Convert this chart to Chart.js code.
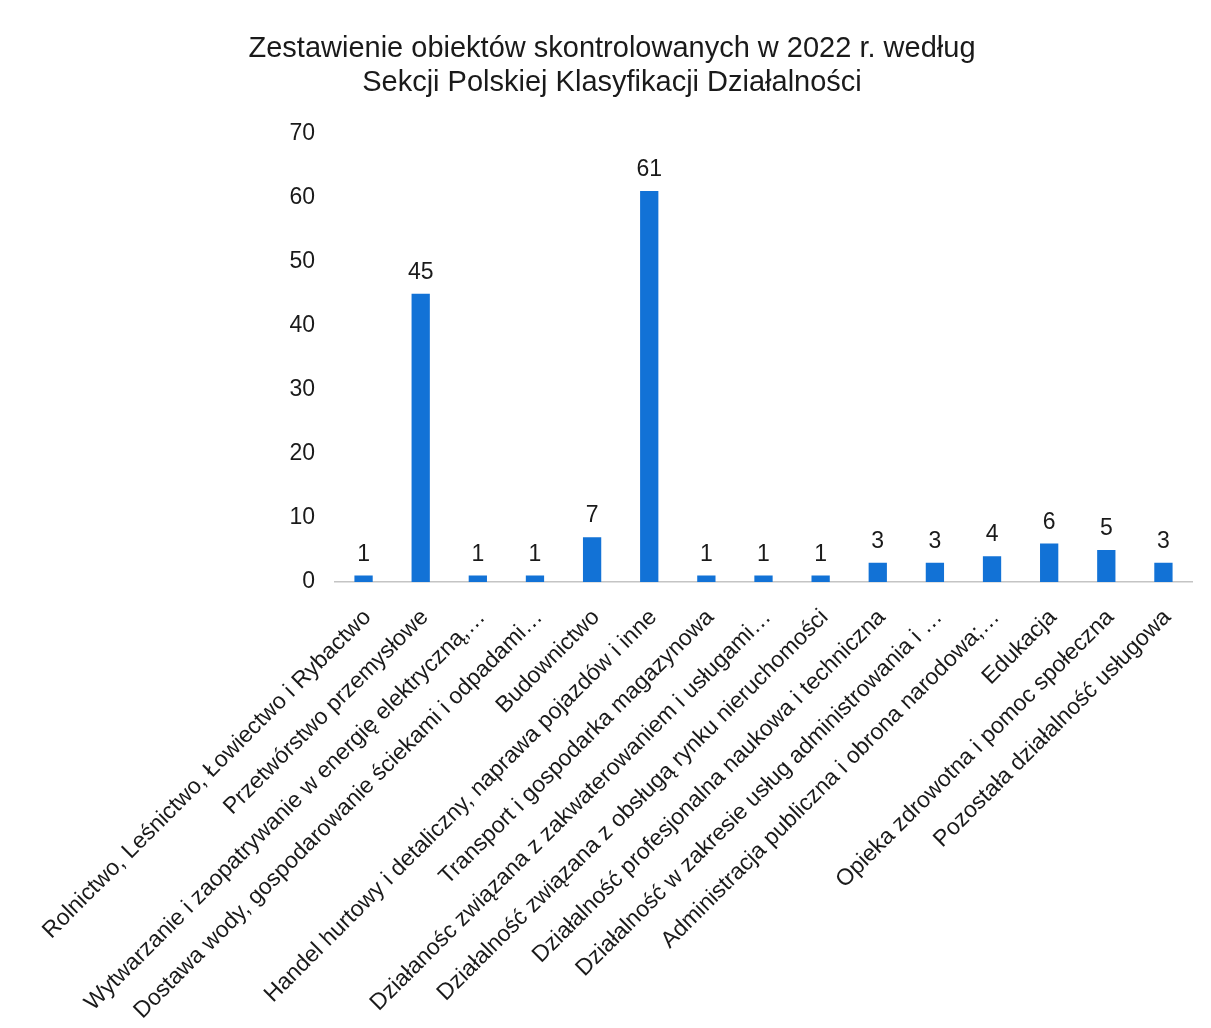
<!DOCTYPE html>
<html>
<head>
<meta charset="utf-8">
<script src="https://cdn.jsdelivr.net/npm/chart.js@4/dist/chart.umd.min.js"></script>
<style>
  html, body { margin: 0; padding: 0; background: #fff; }
  #wrap { width: 1211px; height: 1028px; position: relative; }
</style>
</head>
<body>
<div id="wrap"><canvas id="myChart"></canvas></div>
<script>
const titleLines = [
    'Zestawienie obiektów skontrolowanych w 2022 r. według',
    'Sekcji Polskiej Klasyfikacji Działalności'
];

const categories = [
    'Rolnictwo, Leśnictwo, Łowiectwo i Rybactwo',
    'Przetwórstwo przemysłowe',
    'Wytwarzanie i zaopatrywanie w energię elektryczną,…',
    'Dostawa wody, gospodarowanie ściekami i odpadami…',
    'Budownictwo',
    'Handel hurtowy i detaliczny, naprawa pojazdów i inne',
    'Transport i gospodarka magazynowa',
    'Działanośc związana z zakwaterowaniem i usługami…',
    'Działalność związana z obsługą rynku nieruchomości',
    'Działalność profesjonalna naukowa i techniczna',
    'Działalność w zakresie usług administrowania i …',
    'Administracja publiczna i obrona narodowa;…',
    'Edukacja',
    'Opieka zdrowotna i pomoc społeczna',
    'Pozostała działalność usługowa'
];

const values = [1, 45, 1, 1, 7, 61, 1, 1, 1, 3, 3, 4, 6, 5, 3];

const yTicks = [0, 10, 20, 30, 40, 50, 60, 70];

const barColor = '#1272d6';
const fontFamily = '"Liberation Sans", Arial, sans-serif';

// draws the number above each bar
const valueLabels = {
    id: 'valueLabels',
    afterDatasetsDraw(chart) {
        const ctx = chart.ctx;
        const meta = chart.getDatasetMeta(0);
        ctx.save();
        ctx.font = '23px ' + fontFamily;
        ctx.fillStyle = '#1a1a1a';
        ctx.textAlign = 'center';
        ctx.textBaseline = 'alphabetic';
        meta.data.forEach((bar, i) => {
            ctx.fillText(String(values[i]), bar.x, bar.y - 15);
        });
        ctx.restore();
    }
};

const data = {
    labels: categories,
    datasets: [{
        data: values,
        backgroundColor: barColor,
        borderWidth: 0,
        categoryPercentage: 1,
        barPercentage: 0.32
    }]
};

const config = {
    type: 'bar',
    data: data,
    plugins: [valueLabels],
    options: {
        responsive: true,
        maintainAspectRatio: false,
        animation: false,
        layout: {
            padding: { left: 32, right: 19, top: 0, bottom: 0 }
        },
        plugins: {
            legend: { display: false },
            tooltip: { enabled: false },
            title: {
                display: true,
                text: titleLines,
                color: '#1a1a1a',
                font: { family: fontFamily, size: 29, weight: 'normal', lineHeight: 1.18 },
                padding: { top: 32, bottom: 33 }
            }
        },
        scales: {
            x: {
                grid: { display: false },
                border: { display: true, color: '#c4c4c4', width: 1.5 },
                ticks: {
                    autoSkip: false,
                    minRotation: 45,
                    maxRotation: 45,
                    padding: 14,
                    labelOffset: 4,
                    color: '#1a1a1a',
                    font: { family: fontFamily, size: 23 }
                },
                afterFit(scale) { scale.height = 446; }
            },
            y: {
                min: 0,
                max: 70,
                afterBuildTicks(scale) { scale.ticks = yTicks.map(v => ({ value: v })); },
                grid: { display: false, drawTicks: false },
                border: { display: false },
                ticks: {
                    padding: 20,
                    color: '#1a1a1a',
                    font: { family: fontFamily, size: 23 }
                },
                afterFit(scale) { scale.width = 303; }
            }
        }
    }
};

const myChart = new Chart(
    document.getElementById('myChart').getContext('2d'),
    config
);
</script>
</body>
</html>
